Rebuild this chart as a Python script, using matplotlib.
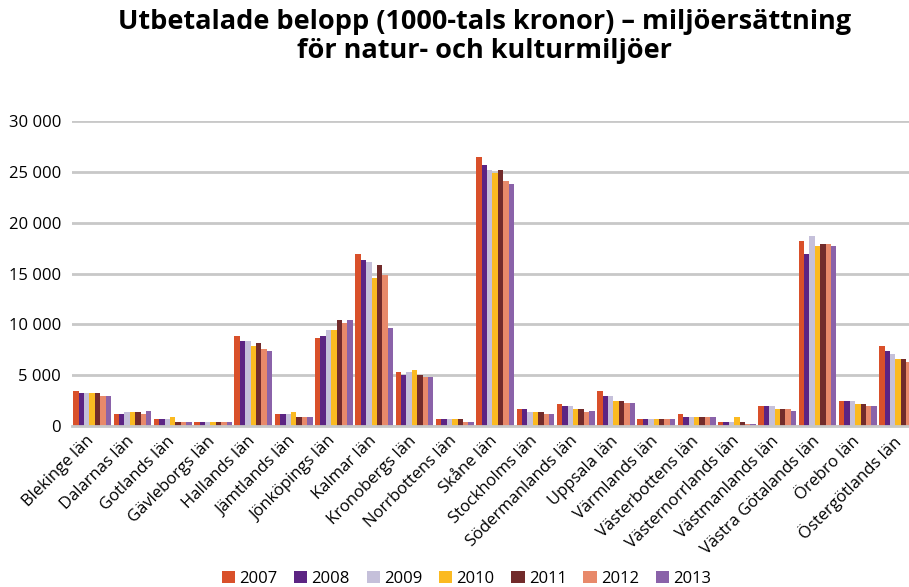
import matplotlib
matplotlib.use("Agg")
import matplotlib.pyplot as plt
import matplotlib.transforms as mtransforms
import numpy as np
from matplotlib.ticker import FuncFormatter

''' Data (1000-tals kronor) '''
lan = ['Blekinge län', 'Dalarnas län', 'Gotlands län', 'Gävleborgs län', 'Hallands län',
       'Jämtlands län', 'Jönköpings län', 'Kalmar län', 'Kronobergs län', 'Norrbottens län',
       'Skåne län', 'Stockholms län', 'Södermanlands län', 'Uppsala län', 'Värmlands län',
       'Västerbottens län', 'Västernorrlands län', 'Västmanlands län', 'Västra Götalands län',
       'Örebro län', 'Östergötlands län']

years = ['2007', '2008', '2009', '2010', '2011', '2012', '2013']

v2007 = [3440, 1210, 690, 400, 8850, 1180, 8650, 16910, 5310, 690, 26450, 1670, 2160, 3440, 690, 1180, 390, 1970, 18190, 2460, 7870]
v2008 = [3250, 1210, 690, 400, 8360, 1180, 8850, 16320, 5010, 690, 25660, 1670, 1970, 2950, 690, 890, 390, 1970, 16910, 2460, 7370]
v2009 = [3250, 1380, 690, 400, 8360, 1180, 9440, 16130, 5310, 690, 25170, 1380, 1970, 2950, 690, 890, 390, 1970, 18680, 2460, 7080]
v2010 = [3250, 1380, 920, 400, 7870, 1380, 9440, 14550, 5510, 690, 24880, 1380, 1670, 2460, 690, 890, 890, 1670, 17700, 2160, 6590]
v2011 = [3250, 1380, 400, 400, 8160, 890, 10420, 15830, 5010, 690, 25170, 1380, 1670, 2460, 690, 890, 390, 1670, 17900, 2160, 6590]
v2012 = [2980, 1210, 400, 400, 7570, 890, 10130, 14850, 4820, 400, 24090, 1180, 1380, 2260, 690, 890, 200, 1670, 17900, 1970, 6290]
v2013 = [2980, 1440, 400, 400, 7370, 890, 10420, 9640, 4820, 400, 23800, 1180, 1470, 2260, 690, 890, 200, 1470, 17700, 1970, 6300]

series = [v2007, v2008, v2009, v2010, v2011, v2012, v2013]
colors = ['#d9502a', '#5c2483', '#c5c0da', '#fbba21', '#722b2b', '#e8896a', '#8a62a9']

''' Plot '''
plt.rcParams['font.family'] = ['Open Sans', 'DejaVu Sans']

fig = plt.figure(figsize=(9.09, 5.87), dpi=100)
ax = fig.add_axes([72 / 909, 1 - 426 / 587, 1 - 72 / 909, (426 - 121) / 587])

x = np.arange(len(lan))
w = 0.134							# bar width (7 bars per län)
for i, vals in enumerate(series):
	ax.bar(x + (i - 3) * w, vals, width=w, color=colors[i], label=years[i], zorder=3, linewidth=0)

ax.set_ylim(0, 30000)
ax.set_xlim(-0.5, -0.5 + (909 - 72) / 40.3)			# last group is cut at the right edge
ax.set_yticks(np.arange(0, 30001, 5000))
ax.yaxis.set_major_formatter(FuncFormatter(lambda v, p: '{:,.0f}'.format(v).replace(',', ' ')))
ax.grid(axis='y', color='#c8c8c8', linewidth=2, zorder=0)

for s in ['top', 'right', 'left']:
	ax.spines[s].set_visible(False)
ax.spines['bottom'].set_color('#c8c8c8')
ax.spines['bottom'].set_linewidth(2)
ax.spines['bottom'].set_zorder(4)

ax.set_xticks(x)
ax.set_xticklabels(lan, rotation=45, ha='right', rotation_mode='anchor', fontsize=12)
ax.tick_params(axis='x', length=0, pad=5)
ax.tick_params(axis='y', length=0, pad=8, labelsize=12)
shift = mtransforms.ScaledTranslation(-6 / 100, 0, fig.dpi_scale_trans)
for lbl in ax.get_xticklabels():
	lbl.set_transform(lbl.get_transform() + shift)

fig.text(0.533, 0.985, 'Utbetalade belopp (1000-tals kronor) – miljöersättning\nför natur- och kulturmiljöer',
	ha='center', va='top', fontsize=19.5, fontweight='bold', linespacing=1.15)

fig.legend(loc='lower center', bbox_to_anchor=(0.513, -0.025), ncol=7, frameon=False, fontsize=12,
	handlelength=0.8, handleheight=0.8, handletextpad=0.25, columnspacing=1.0)

plt.savefig('out.png', dpi=100)
